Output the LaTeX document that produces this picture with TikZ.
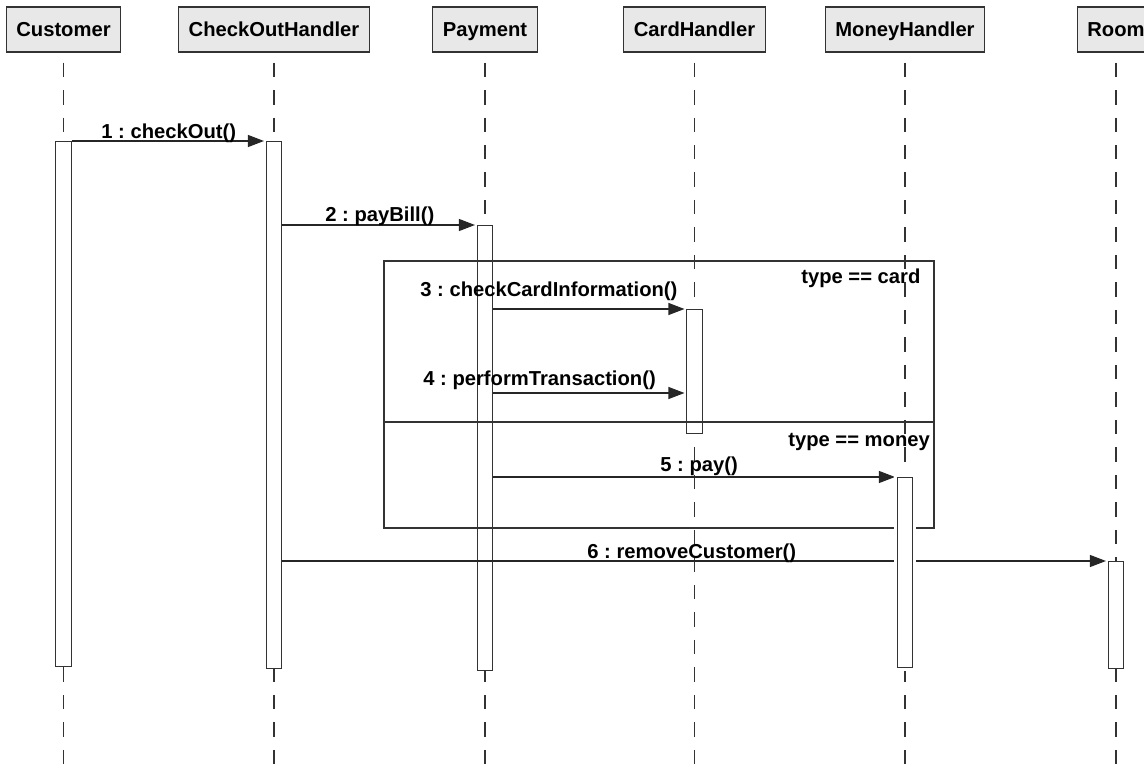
\documentclass[tikz,border=0pt]{standalone}
\usepackage{fontspec}
\setmainfont{Liberation Sans}
\usetikzlibrary{arrows.meta, positioning}
\pgfdeclarelayer{front}
\pgfsetlayers{main,front}
\tikzset{
  head/.style={draw=black!80, fill=black!9, line width=0.6pt,
    minimum height=0.9cm, inner xsep=0.2cm, text height=8.2pt, text depth=0pt},
  life/.style={draw=black!80, line width=0.6pt,
    dash pattern=on 0.29cm off 0.26cm, dash phase=0.35cm},
  actbar/.style={draw=black!80, fill=white, line width=0.6pt,
    minimum width=0.31cm, inner sep=0pt, anchor=north},
  halo/.style={preaction={draw=white, line width=0.14cm}},
  msg/.style={draw=black!85, line width=0.6pt,
    -{Triangle[length=0.32cm, width=0.24cm]}, shorten >=1pt},
  lbl/.style={anchor=base west, inner sep=0pt},
  frag/.style={draw=black!80, line width=0.6pt}
}

\begin{document}
\frenchspacing
\begin{tikzpicture}[x=0.02cm, y=-0.02cm, font=\fontsize{11.5}{14}\selectfont\bfseries]
  \useasboundingbox (0,0) rectangle (1144,777);
  \clip (0,0) rectangle (1144,777);

  % ── Objects and lifelines ─────────────────────────────────────────
  \node[head] (cust)  at (63.5,29.5) {Customer};
  \node[head] (coh)   at (274,29.5)  {CheckOutHandler};
  \node[head, minimum width=2cm] (pay) at (485,29.5) {Payment};
  \node[head] (card)  at (694.5,29.5) {CardHandler};
  \node[head] (money) at (905,29.5)  {MoneyHandler};
  \node[head] (room)  at (1116,29.5) {Room};

  \coordinate (bot) at (0,777);
  \foreach \n in {cust,coh,pay,card,money,room}
    \draw[life] (\n) -- (\n |- bot);

  % ── Activation bars ───────────────────────────────────────────────
  \node[actbar, minimum height=10.5cm]  (bcust) at (cust |- 0,141) {};
  \node[actbar, minimum height=10.54cm] (bcoh)  at (coh |- 0,141)  {};
  \node[actbar, minimum height=8.9cm]   (bpay)  at (pay |- 0,225)  {};
  \node[actbar, minimum height=2.48cm]  (bcard) at (card |- 0,309) {};
  \node[actbar, minimum height=2.14cm]  (broom) at (room |- 0,561) {};

  % ── alt fragment ──────────────────────────────────────────────────
  \coordinate (altnw) at (384,261);
  \coordinate (altse) at (934,528);
  \draw[frag] (altnw) rectangle (altse);
  \draw[frag] (altnw |- 0,422) -- (altse |- 0,422);
  \node[lbl] (gcard)  at (801,283)   {type == card};
  \node[lbl] (gmoney) at (788,446.5) {type == money};

  \begin{pgfonlayer}{front}
    \node[actbar, halo, minimum height=3.8cm] (bmoney) at (money |- 0,477) {};
  \end{pgfonlayer}

  % ── Messages ──────────────────────────────────────────────────────
  \draw[msg] (bcust.north east) -- (bcoh.north west);
  \draw[msg] (bcoh.east |- bpay.north) -- (bpay.north west);
  \draw[msg] (bpay.east |- bcard.north) -- (bcard.north west);
  \draw[msg] (bpay.east |- 0,393) -- (bcard.west |- 0,393);
  \draw[msg] (bpay.east |- bmoney.north) -- (bmoney.north west);
  \draw[msg] (bcoh.east |- broom.north) -- (broom.north west);

  \node[lbl] (m1) at (101,139)   {1 : checkOut()};
  \node[lbl] (m2) at (325,222)   {2 : payBill()};
  \node[lbl] (m3) at (420,296.5) {3 : checkCardInformation()};
  \node[lbl] (m4) at (423,385)   {4 : performTransaction()};
  \node[lbl] (m5) at (660,471.5) {5 : pay()};
  \node[lbl] (m6) at (587,558)   {6 : removeCustomer()};
\end{tikzpicture}
\end{document}
